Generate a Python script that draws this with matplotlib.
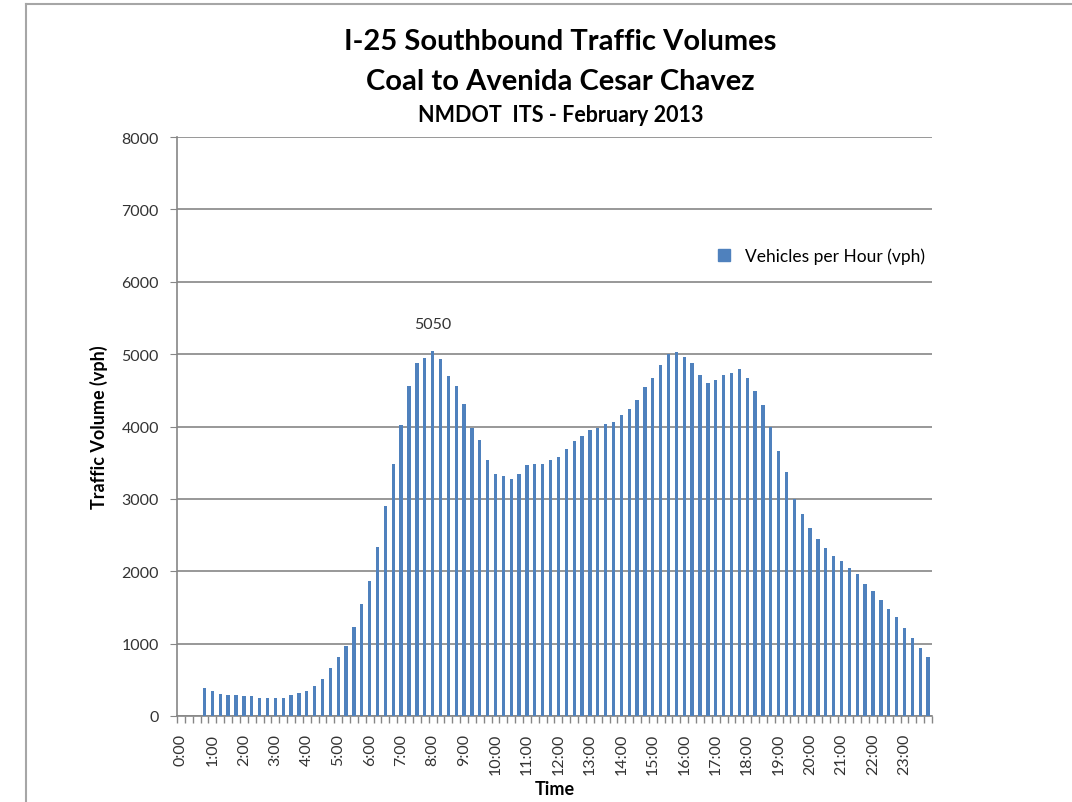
import matplotlib.pyplot as plt
from matplotlib.lines import Line2D

plt.rcParams['font.family'] = ['Lato', 'DejaVu Sans']

# 15-minute slots, 0:00 .. 23:45 (first three slots have no count)
vph = [0, 0, 0, 383, 342, 306, 288, 288, 270, 270, 252, 252, 252, 252, 288, 324,
       342, 419, 514, 662, 811, 968, 1230, 1544, 1871, 2332, 2908, 3488, 4023, 4558, 4871, 4945,
       5050, 4926, 4691, 4558, 4309, 3986, 3811, 3544, 3350, 3313, 3272, 3350, 3465, 3484, 3484, 3544,
       3581, 3696, 3793, 3871, 3949, 3986, 4041, 4065, 4157, 4235, 4369, 4544, 4677, 4853, 4995, 5023,
       4963, 4871, 4714, 4604, 4641, 4714, 4737, 4793, 4677, 4488, 4295, 3991, 3659, 3369, 3000, 2793,
       2599, 2447, 2327, 2217, 2138, 2041, 1963, 1829, 1733, 1599, 1484, 1369, 1212, 1078, 945, 811]
hour_labels = ['%d:00' % h for h in range(24)]
peak_label = '5050'

bar_color = '#4F81BD'
grid_color = '#868686'

fig = plt.figure(figsize=(10.72, 8.03), dpi=100)
ax = fig.add_axes([177 / 1072, 1 - 717 / 803, 755 / 1072, 579 / 803])

x = list(range(len(vph)))
ax.bar(x, vph, width=0.42, color=bar_color, zorder=3)

ax.set_xlim(-0.5, len(vph) - 0.5)
ax.set_ylim(0, 8000)
ax.set_yticks(range(0, 8001, 1000))
ax.yaxis.grid(True, color=grid_color, linewidth=1.2, zorder=0)

ax.set_xticks(range(0, len(vph), 4))
ax.set_xticklabels(hour_labels, rotation=90, fontsize=11.5, color='#333333')
ax.set_xticks([i - 0.5 for i in range(len(vph) + 1)], minor=True)
ax.tick_params(axis='x', which='major', length=0, pad=12)
ax.tick_params(axis='x', which='minor', length=5, color=grid_color, width=1)
ax.tick_params(axis='y', length=5, color=grid_color, labelsize=11.5, labelcolor='#333333', pad=8)

for s in ['top', 'right']:
    ax.spines[s].set_visible(False)
for s in ['left', 'bottom']:
    ax.spines[s].set_color(grid_color)
    ax.spines[s].set_linewidth(1.2)

ax.set_ylabel('Traffic Volume (vph)', fontsize=13, fontweight='bold', labelpad=10)
ax.set_xlabel('Time', fontsize=13, fontweight='bold', va='center')
ax.xaxis.set_label_coords(0.5, -0.126)

peak = vph.index(max(vph))
ax.annotate(peak_label, (peak, vph[peak]), xytext=(0, 14), textcoords='offset points',
            ha='center', va='bottom', fontsize=11.5, color='#333333')

handle = Line2D([], [], marker='s', linestyle='none', markersize=8, color=bar_color)
ax.legend([handle], ['Vehicles per Hour (vph)'], loc='center right', bbox_to_anchor=(1.0, 0.795),
          frameon=False, fontsize=12.5, handletextpad=0.2, borderaxespad=0)

fig.text(0.523, 1 - 42 / 803, 'I-25 Southbound Traffic Volumes', ha='center', va='center',
         fontsize=21, fontweight='bold')
fig.text(0.523, 1 - 82 / 803, 'Coal to Avenida Cesar Chavez', ha='center', va='center',
         fontsize=21, fontweight='bold')
fig.text(0.523, 1 - 116 / 803, 'NMDOT  ITS - February 2013', ha='center', va='center',
         fontsize=15.5, fontweight='bold')

# chart frame (only top and left edges visible in the crop)
fig.add_artist(Line2D([26 / 1072, 1], [1 - 5 / 803, 1 - 5 / 803], transform=fig.transFigure,
                      color='#A6A6A6', linewidth=1.5))
fig.add_artist(Line2D([26 / 1072, 26 / 1072], [0, 1 - 5 / 803], transform=fig.transFigure,
                      color='#A6A6A6', linewidth=1.5))

fig.savefig('out.png', dpi=100, facecolor='white')
